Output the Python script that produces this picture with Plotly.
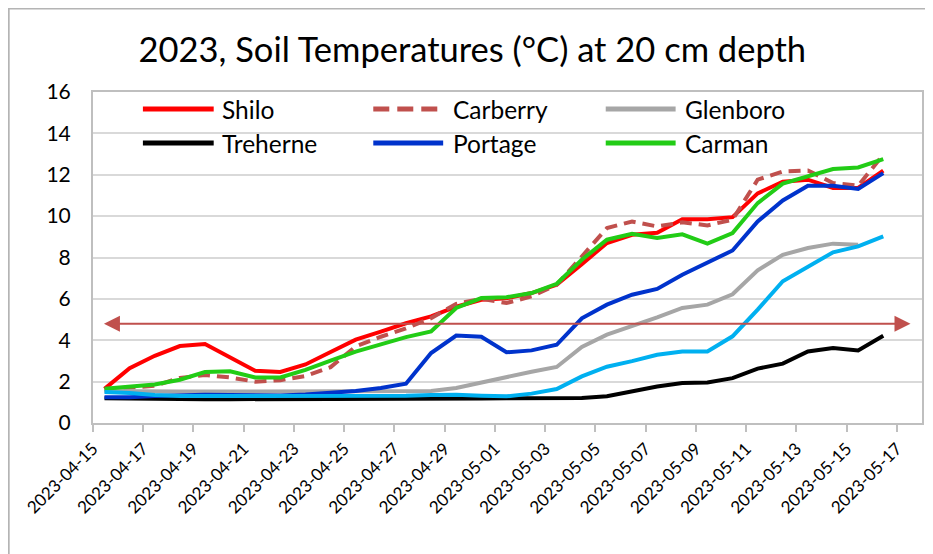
import pandas as pd
import plotly.graph_objects as go

# ---------------- data ----------------
start_day = "2023-04-15"
n_days = 32
dates = pd.date_range(start=start_day + " 11:00", periods=n_days, freq="D")

shilo = [1.65, 2.65, 3.25, 3.72, 3.82, 3.18, 2.52, 2.47, 2.83, 3.43, 4.03, 4.42, 4.82, 5.15, 5.62, 5.96,
         6.03, 6.28, 6.68, 7.68, 8.70, 9.10, 9.20, 9.85, 9.85, 9.95, 11.10, 11.66, 11.76, 11.36, 11.36, 12.20]
carberry = [1.60, 1.70, 1.80, 2.18, 2.32, 2.20, 2.00, 2.07, 2.27, 2.70, 3.70, 4.17, 4.57, 5.07, 5.76, 6.00,
            5.80, 6.12, 6.68, 8.05, 9.42, 9.74, 9.50, 9.70, 9.55, 9.83, 11.76, 12.16, 12.21, 11.60, 11.47, 12.97]
glenboro = [1.55, 1.53, 1.52, 1.52, 1.52, 1.52, 1.52, 1.52, 1.52, 1.52, 1.52, 1.52, 1.53, 1.55, 1.69, 1.96,
            2.22, 2.48, 2.71, 3.68, 4.27, 4.67, 5.10, 5.56, 5.72, 6.22, 7.38, 8.13, 8.46, 8.67, 8.62, None]
treherne = [1.20, 1.18, 1.15, 1.15, 1.15, 1.15, 1.15, 1.15, 1.15, 1.15, 1.15, 1.15, 1.15, 1.15, 1.17, 1.19,
            1.20, 1.20, 1.20, 1.21, 1.29, 1.53, 1.76, 1.93, 1.96, 2.17, 2.63, 2.87, 3.46, 3.63, 3.51, 4.22]
portage = [1.25, 1.25, 1.30, 1.33, 1.37, 1.35, 1.33, 1.33, 1.38, 1.45, 1.55, 1.69, 1.90, 3.38, 4.23, 4.17,
           3.42, 3.51, 3.78, 5.06, 5.72, 6.20, 6.48, 7.17, 7.76, 8.34, 9.74, 10.76, 11.47, 11.47, 11.31, 12.08]
carman = [1.66, 1.76, 1.86, 2.09, 2.46, 2.50, 2.20, 2.20, 2.57, 3.02, 3.45, 3.80, 4.15, 4.43, 5.56, 6.04,
          6.08, 6.28, 6.73, 7.89, 8.86, 9.15, 8.94, 9.12, 8.67, 9.18, 10.63, 11.57, 11.92, 12.28, 12.35, 12.76]
unnamed = [1.50, 1.45, 1.35, 1.30, 1.30, 1.30, 1.30, 1.30, 1.30, 1.30, 1.30, 1.30, 1.32, 1.35, 1.37, 1.32,
           1.29, 1.42, 1.64, 2.25, 2.72, 2.99, 3.30, 3.46, 3.46, 4.19, 5.48, 6.85, 7.57, 8.25, 8.54, 9.02]

threshold = 4.8
arrow_start = "2023-04-15 09:00"
arrow_end = "2023-05-17 13:00"

x_range = ["2023-04-15", "2023-05-18"]
y_range = [0, 16]

series = [
    ("Shilo", shilo, "#FF0000", "solid"),
    ("Carberry", carberry, "#C0504D", "12px,7px"),
    ("Glenboro", glenboro, "#A6A6A6", "solid"),
    ("Treherne", treherne, "#000000", "solid"),
    ("Portage", portage, "#0033CC", "solid"),
    ("Carman", carman, "#22CC16", "solid"),
    (None, unnamed, "#00B0F0", "solid"),
]

FONT = "Lato"

fig = go.Figure()
for name, vals, color, dash in series:
    fig.add_trace(go.Scatter(
        x=dates, y=vals, name=name or "", mode="lines", showlegend=False,
        line=dict(color=color, width=4, dash=dash),
        connectgaps=False,
    ))

# threshold double arrow
fig.add_annotation(
    x=arrow_end, y=threshold, ax=arrow_start, ay=threshold,
    xref="x", yref="y", axref="x", ayref="y",
    text="", showarrow=True, arrowside="end+start",
    arrowhead=2, arrowsize=1.6, arrowwidth=2, arrowcolor="#C0504D",
)

# legend drawn as 2 rows x 3 columns (position in paper units of the plot area)
legend_cols_line = [(0.0602, 0.1456), (0.3381, 0.4224), (0.6185, 0.7028)]
legend_cols_text = [0.1528, 0.4320, 0.7112]
legend_rows = [0.9486, 0.8459]
named = [s for s in series if s[0]]
for k, (name, _, color, dash) in enumerate(named):
    r, c = divmod(k, 3)
    x0, x1 = legend_cols_line[c]
    yy = legend_rows[r]
    fig.add_shape(type="line", xref="paper", yref="paper",
                  x0=x0, x1=x1, y0=yy, y1=yy,
                  line=dict(color=color, width=5,
                            dash="16px,8px" if dash != "solid" else "solid"))
    fig.add_annotation(x=legend_cols_text[c], y=yy, xref="paper", yref="paper",
                       text=name, showarrow=False, xanchor="left", yanchor="middle",
                       font=dict(family=FONT, size=24.5, color="black"))

# outer chart border
fig.add_shape(type="rect", xref="paper", yref="paper",
              x0=-0.1017, x1=1.2, y0=-0.6, y1=1.2523,
              line=dict(color="#B4B4B4", width=2), fillcolor="rgba(0,0,0,0)", layer="below")

fig.update_layout(
    width=925, height=546,
    margin=dict(l=85, r=9, t=84, b=131),
    paper_bgcolor="white", plot_bgcolor="white",
    font=dict(family=FONT, color="black"),
    title=dict(text="2023, Soil Temperatures (°C) at 20 cm depth",
               x=0.502, xanchor="center", xref="container",
               y=0.923, yanchor="middle", yref="container",
               font=dict(family=FONT, size=34.5, color="black")),
    showlegend=False,
)

fig.update_xaxes(
    type="date", range=x_range,
    tick0="2023-04-15", dtick=2 * 86400000, tickformat="%Y-%m-%d",
    tickangle=-45, tickfont=dict(family=FONT, size=17, color="black"),
    ticks="outside", ticklen=7, tickwidth=1.5, tickcolor="#BFBFBF",
    showgrid=False, showline=True, linecolor="#BFBFBF", linewidth=2, mirror=True,
    zeroline=False,
)
fig.update_yaxes(
    range=y_range, dtick=2, tick0=0,
    tickfont=dict(family=FONT, size=21, color="black"),
    ticks="", ticklabelstandoff=16,
    showgrid=True, gridcolor="#D9D9D9", gridwidth=1.5,
    showline=True, linecolor="#BFBFBF", linewidth=2, mirror=True,
    zeroline=False,
)

fig.write_html("out.html")
